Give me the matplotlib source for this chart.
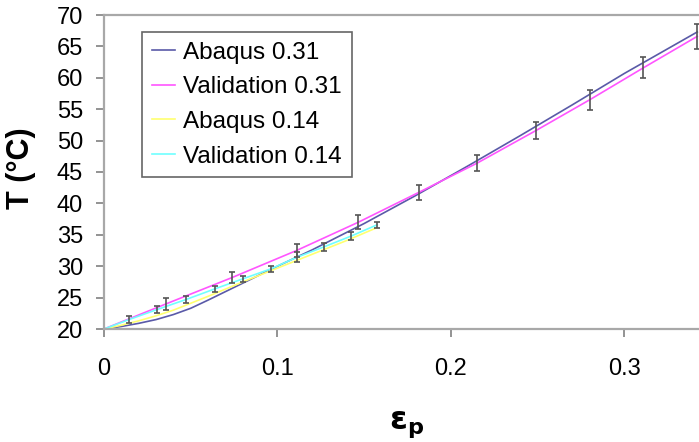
import numpy as np
import matplotlib
matplotlib.use("Agg")
from matplotlib import pyplot as plt

plt.rcParams['font.family'] = ['Liberation Sans', 'DejaVu Sans']

# Abaqus 0.31 (model curve)
ab31_x = [0, 0.01, 0.02, 0.03, 0.04, 0.05, 0.06, 0.08, 0.10, 0.12, 0.15, 0.18, 0.21, 0.24, 0.27, 0.30, 0.342]
ab31_y = [20, 20.4, 20.9, 21.5, 22.3, 23.3, 24.6, 27.3, 30.0, 32.6, 36.8, 41.3, 46.0, 50.8, 55.7, 60.7, 67.3]

# Validation 0.31 (measured, with error bars)
va31_x = [0, 0.0358, 0.0739, 0.111, 0.1466, 0.1818, 0.215, 0.249, 0.280, 0.311, 0.342]
va31_y = [20, 24.0, 28.2, 32.5, 37.0, 41.8, 46.4, 51.6, 56.5, 61.6, 66.6]
va31_e = [0, 1.0, 0.9, 1.1, 1.1, 1.2, 1.3, 1.4, 1.6, 1.7, 2.0]

# Abaqus 0.14
ab14_x = [0, 0.01, 0.02, 0.03, 0.04, 0.06, 0.08, 0.10, 0.12, 0.14, 0.157]
ab14_y = [20, 20.6, 21.3, 22.1, 23.0, 25.2, 27.5, 29.7, 31.9, 34.1, 36.1]

# Validation 0.14
va14_x = [0, 0.0144, 0.0306, 0.0473, 0.064, 0.0802, 0.0964, 0.111, 0.127, 0.1425, 0.1575]
va14_y = [20, 21.5, 23.1, 24.7, 26.4, 28.0, 29.6, 31.4, 33.1, 34.8, 36.6]
va14_e = [0, 0.5, 0.5, 0.5, 0.5, 0.5, 0.5, 0.8, 0.6, 0.6, 0.5]

fig = plt.figure(figsize=(6.99, 4.42), dpi=100)
ax = fig.add_axes([104/699, 1-329/442, 1-104/699, (329-15)/442])

ax.plot(ab31_x, ab31_y, color='#5a5aa8', lw=1.2, label='Abaqus 0.31')
ax.plot(va31_x, va31_y, color='#ff55ff', lw=1.2, label='Validation 0.31')
ax.plot(ab14_x, ab14_y, color='#ffff70', lw=1.2, label='Abaqus 0.14')
ax.plot(va14_x, va14_y, color='#70ffff', lw=1.2, label='Validation 0.14')

ax.errorbar(va31_x[1:], va31_y[1:], yerr=va31_e[1:], fmt='none', ecolor='#555555',
            elinewidth=1.2, capsize=2.5, capthick=1.2)
ax.errorbar(va14_x[1:], va14_y[1:], yerr=va14_e[1:], fmt='none', ecolor='#555555',
            elinewidth=1.2, capsize=2.5, capthick=1.2)

ax.set_xlim(0, 0.343)
ax.set_ylim(20, 70)
ax.set_xticks([0, 0.1, 0.2, 0.3])
ax.set_xticklabels(['0', '0.1', '0.2', '0.3'])
ax.set_yticks(range(20, 71, 5))

ax.spines['right'].set_visible(False)
for s in ['left', 'bottom', 'top']:
    ax.spines[s].set_color('#a8a8a8')
    ax.spines[s].set_linewidth(1.6)
ax.tick_params(axis='x', direction='out', length=6, width=1.2, color='#808080', labelsize=17, pad=15)
ax.tick_params(axis='y', direction='out', length=6, width=1.2, color='#808080', labelsize=17, pad=9)

ax.set_ylabel('T (°C)', fontsize=22, fontweight='bold')
ax.yaxis.set_label_coords(-0.114, 0.513)
ax.set_xlabel(r'$\mathbf{\varepsilon_p}$', fontsize=23)
ax.xaxis.set_label_coords(0.509, -0.255)

leg = ax.legend(loc='upper left', bbox_to_anchor=(0.064, 0.946), fontsize=17.5,
                frameon=True, fancybox=False, handlelength=0.95, handletextpad=0.35,
                borderpad=0.4, labelspacing=0.52, borderaxespad=0)
leg.get_frame().set_edgecolor('#404040')
leg.get_frame().set_linewidth(1.2)

fig.savefig('out.png', dpi=100)
